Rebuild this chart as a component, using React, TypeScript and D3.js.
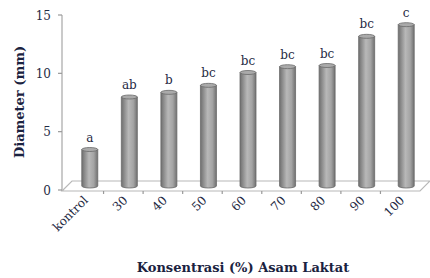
import React, { useRef, useEffect } from 'react';
import * as d3 from 'd3';

const categories = ['kontrol', '30', '40', '50', '60', '70', '80', '90', '100'];
const diameters = [3.3, 7.8, 8.2, 8.8, 9.9, 10.4, 10.5, 13.0, 14.0];
const letters = ['a', 'ab', 'b', 'bc', 'bc', 'bc', 'bc', 'bc', 'c'];
const yTicks = [0, 5, 10, 15];

const W = 430;
const H = 278;
const serif = "'DejaVu Serif', 'Liberation Serif', serif";

export default function App() {
  const svgRef = useRef<SVGSVGElement>(null);

  useEffect(() => {
    if (!svgRef.current) return;
    const svg = d3.select(svgRef.current);
    svg.selectAll('*').remove();

    // front edge of the floor; bars sit half-way into the depth
    const x = d3.scaleBand<string>().domain(categories).range([64, 420]);
    const y = d3.scaleLinear().domain([0, 15]).range([190, 15]);
    const depthX = 10;
    const depthY = 10;
    const barW = 16;
    const axisX = 62;
    const floorY = y(0) + 1;

    const grad = svg.append('defs').append('linearGradient').attr('id', 'cyl')
      .attr('x1', 0).attr('x2', 1).attr('y1', 0).attr('y2', 0);
    [['0', '#6f6f6f'], ['0.45', '#b8b8b8'], ['0.75', '#a4a4a4'], ['1', '#707070']].forEach(([o, c]) => {
      grad.append('stop').attr('offset', o).attr('stop-color', c);
    });

    // floor
    svg.append('path')
      .attr('d', `M${axisX},${floorY} L420,${floorY} L${420 + depthX},${floorY - depthY} L${axisX + depthX},${floorY - depthY} Z`)
      .attr('stroke', '#b8b8b8').attr('stroke-width', 1.2).attr('fill', 'none');

    // y axis
    svg.append('line')
      .attr('x1', axisX).attr('x2', axisX).attr('y1', y(15)).attr('y2', floorY)
      .attr('stroke', '#b8b8b8').attr('stroke-width', 1.5);
    const yt = svg.append('g').selectAll('g').data(yTicks).join('g');
    yt.append('line')
      .attr('x1', axisX - 4).attr('x2', axisX).attr('y1', d => y(d)).attr('y2', d => y(d))
      .attr('stroke', '#999').attr('stroke-width', 1.2);
    yt.append('text')
      .attr('x', 51).attr('y', d => y(d) + 4.5)
      .attr('text-anchor', 'end')
      .style('font-family', serif).style('font-size', '12px')
      .attr('fill', '#1f2a44')
      .text(d => d);

    // x ticks
    svg.append('g').selectAll('line').data(categories.slice(1)).join('line')
      .attr('x1', d => x(d)!).attr('x2', d => x(d)!)
      .attr('y1', floorY).attr('y2', floorY + 3)
      .attr('stroke', '#999').attr('stroke-width', 1.2);

    // bars as cylinders
    const bars = svg.append('g').selectAll('g').data(categories).join('g');
    const cx = (c: string) => x(c)! + x.bandwidth() / 2 + 6;
    const base = y(0) - 4;
    const top = (i: number) => y(diameters[i]) - 4;
    bars.append('path')
      .attr('d', (c, i) => `M${cx(c) - barW / 2},${top(i) + 2} L${cx(c) - barW / 2},${base} A${barW / 2},2 0 0 0 ${cx(c) + barW / 2},${base} L${cx(c) + barW / 2},${top(i) + 2} Z`)
      .attr('fill', 'url(#cyl)').attr('stroke', '#6a6a6a').attr('stroke-width', 0.8);
    bars.append('ellipse')
      .attr('cx', c => cx(c)).attr('cy', (c, i) => top(i) + 2)
      .attr('rx', barW / 2).attr('ry', 2)
      .attr('fill', '#aaaaaa').attr('stroke', '#6a6a6a').attr('stroke-width', 0.8);
    bars.append('text')
      .attr('x', c => cx(c)).attr('y', (c, i) => top(i) - 6)
      .attr('text-anchor', 'middle')
      .style('font-family', serif).style('font-size', '12px')
      .attr('fill', '#1f2a44')
      .text((c, i) => letters[i]);

    // rotated category labels (45 degrees, reading upwards)
    svg.append('g').selectAll('text').data(categories).join('text')
      .style('transform', c => `translate(${x(c)! + x.bandwidth() / 2 + 5}px, 201px) rotate(-45deg)`)
      .attr('text-anchor', 'end')
      .style('font-family', serif).style('font-size', '12px')
      .attr('fill', '#1f2a44')
      .text(c => c);

    // axis titles
    svg.append('text')
      .attr('x', 243).attr('y', 272)
      .attr('text-anchor', 'middle')
      .style('font-family', serif).style('font-size', '13px').style('font-weight', 'bold')
      .attr('fill', '#1a2240')
      .text('Konsentrasi (%) Asam Laktat');
    svg.append('text')
      .attr('transform', 'translate(24,102) rotate(-90)')
      .attr('text-anchor', 'middle')
      .style('font-family', serif).style('font-size', '13px').style('font-weight', 'bold')
      .attr('fill', '#1a2240')
      .text('Diameter (mm)');
  }, []);

  return (
    <svg ref={svgRef} width={W} height={H}
      style={{ position: 'absolute', left: 0, top: 0, background: '#fff' }} />
  );
}
